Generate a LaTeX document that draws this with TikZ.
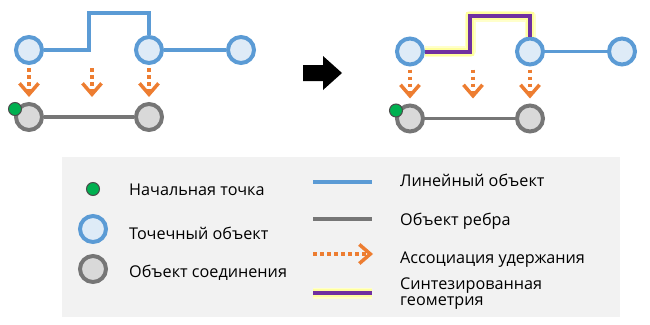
\documentclass[tikz,border=0pt]{standalone}
\usepackage{fontspec}
\setmainfont{Open Sans}
\usetikzlibrary{arrows.meta}
\definecolor{LineBlue}{RGB}{91,155,213}
\definecolor{PointFill}{RGB}{222,235,247}
\definecolor{EdgeGray}{RGB}{118,118,118}
\definecolor{JuncFill}{RGB}{217,217,217}
\definecolor{StartGreen}{RGB}{0,176,80}
\definecolor{AssocOrange}{RGB}{237,125,49}
\definecolor{SynPurple}{RGB}{112,48,160}
\definecolor{GlowYellow}{RGB}{255,255,140}
\definecolor{LegendBack}{RGB}{242,242,242}
\tikzset{
  pointobj/.style={circle, draw=LineBlue, fill=PointFill, line width=4pt, minimum size=26pt, inner sep=0pt},
  junction/.style={circle, draw=EdgeGray, fill=JuncFill, line width=4pt, minimum size=26pt, inner sep=0pt},
  startpt/.style={circle, draw=black!70, fill=StartGreen, line width=1pt, minimum size=13pt, inner sep=0pt},
  lineobj/.style={draw=LineBlue, line width=3.5pt},
  edgeobj/.style={draw=EdgeGray, line width=3.5pt},
  contain/.style={draw=AssocOrange, line width=4pt, dash pattern=on 3.5pt off 3.5pt,
    -{Straight Barb[length=11pt, width=19pt, line width=3.5pt]}},
  synglow/.style={draw=GlowYellow!45, line width=11pt, line join=round},
  synglowin/.style={draw=GlowYellow!85, line width=8pt, line join=miter},
  syngeom/.style={draw=SynPurple, line width=4pt, line join=miter},
  legtext/.style={anchor=base west, inner sep=0pt, font=\fontsize{16.2}{15.5}\selectfont, align=left}
}
\begin{document}
\begin{tikzpicture}[x=1pt,y=-1pt]
  \useasboundingbox (0,0) rectangle (650,324);
  % before and after
  \foreach \d/\dx/\dy in {a/0/0,b/381/1.5} {
    \foreach \i/\px in {1/29,2/149,3/241}
      \node[pointobj] (p\d\i) at (\px+\dx,50+\dy) {};
    \foreach \i/\px in {1/29,2/149}
      \node[junction] (j\d\i) at (\px+\dx,117+\dy) {};
    \draw[edgeobj] (j\d1) -- (j\d2);
    \node[startpt] (s\d) at (15+\dx,109+\dy) {};
    \draw[lineobj] (p\d2) -- (p\d3);
    \draw[contain, shorten <=3pt, shorten >=5pt] (p\d1) -- (j\d1);
    \draw[contain, shorten <=3pt, shorten >=5pt] (p\d2) -- (j\d2);
    \coordinate (m\d1) at (92+\dx,68+\dy);
    \coordinate (m\d2) at (92+\dx,97+\dy);
    \draw[contain] (m\d1) -- (m\d2);
  }
  \draw[lineobj] (pa1.east) -- (89,50) -- (89,13) -| (pa2.north);
  \draw[synglow] (pb1.east) -- (470,51.5) -- (470,16) -| (pb2.north);
  \draw[synglowin] (pb1.east) -- (470,51.5) -- (470,16) -| (pb2.north);
  \draw[syngeom] (pb1.east) -- (470,51.5) -- (470,16) -| (pb2.north);
  \fill (303,65) -- (323,65) -- (323,56) -- (342,73) -- (323,90) -- (323,81) -- (303,81) -- cycle;
  % legend
  \fill[LegendBack] (62,157) rectangle (620,317);
  \node[startpt] (ls) at (93,189) {};
  \node[pointobj] (lp) at (93,229) {};
  \node[junction] (lj) at (93,269) {};
  \node[legtext] (t1) at (129,195.7) {Начальная точка};
  \node[legtext] (t2) at (129,239.3) {Точечный объект};
  \node[legtext] (t3) at (129,277.7) {Объект соединения};
  \node[legtext] (t4) at (400,186.7) {Линейный объект};
  \node[legtext] (t5) at (400,225) {Объект ребра};
  \node[legtext] (t6) at (400,263.3) {Ассоциация удержания};
  \node[legtext] (t7) at (400,305) {Синтезированная\\геометрия};
  \coordinate (l1a) at (313,182); \coordinate (l1b) at (372,182);
  \coordinate (l2a) at (313,219); \coordinate (l2b) at (372,219);
  \coordinate (l3a) at (313,254); \coordinate (l3b) at (373,254);
  \coordinate (l4a) at (313,293); \coordinate (l4b) at (372,293);
  \draw[lineobj] (l1a) -- (l1b);
  \draw[edgeobj] (l2a) -- (l2b);
  \draw[contain] (l3a) -- (l3b);
  \draw[synglow] (l4a) -- (l4b);
  \draw[synglowin] (l4a) -- (l4b);
  \draw[syngeom] (l4a) -- (l4b);
\end{tikzpicture}
\end{document}
